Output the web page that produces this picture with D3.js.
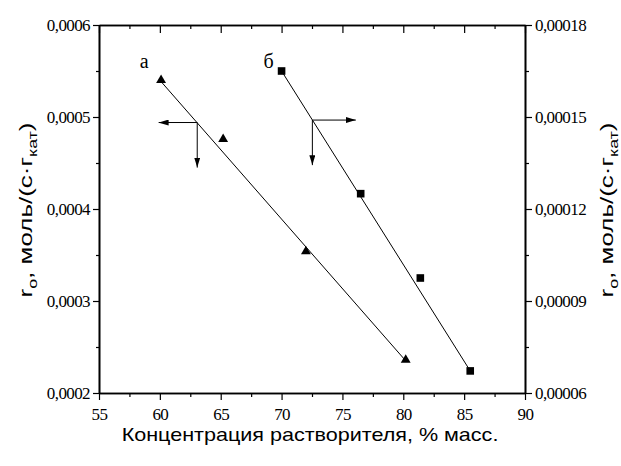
<!DOCTYPE html>
<html>
<head>
<meta charset="utf-8">
<script src="https://cdn.jsdelivr.net/npm/d3@7"></script>
<style>
  body { margin: 0; background: #fff; }
  svg { display: block; }
</style>
</head>
<body>
<div id="chart"></div>
<script>
// Series "а": triangles, left axis
const concA = [60.1, 65.2, 72.0, 80.2];
const rateA = [0.000540, 0.000476, 0.000354, 0.000236];
// Series "б": squares, right axis
const concB = [70.0, 76.5, 81.4, 85.5];
const rateB = [0.000165, 0.000125, 0.0000975, 0.0000672];

// Fitted lines (end points)
const fitAx = [60.0, 80.2];
const fitAy = [0.000540, 0.000235];
const fitBx = [70.0, 85.5];
const fitBy = [0.000165, 0.0000672];

// Axis-indicator arrows: junction on the line, horizontal tip, vertical tip
const arrowA = { x: 63.07, y: 0.000494, toX: 59.9, toY: 0.000445 };
const arrowB = { x: 72.53, y: 0.000149, toX: 76.1, toY: 0.0001343 };

const xTicks = [55, 60, 65, 70, 75, 80, 85, 90];
const xMinor = [57.5, 62.5, 67.5, 72.5, 77.5, 82.5, 87.5];
const yLTicks = [0.0002, 0.0003, 0.0004, 0.0005, 0.0006];
const yLMinor = [0.00025, 0.00035, 0.00045, 0.00055];
const yRTicks = [0.00006, 0.00009, 0.00012, 0.00015, 0.00018];
const yRMinor = [0.000075, 0.000105, 0.000135, 0.000165];

const width = 621, height = 466;
const plotLeft = 99, plotRight = 525, plotTop = 25, plotBottom = 393;
const serif = "'Liberation Serif', 'Times New Roman', serif";
const sans = "'Liberation Sans', Arial, sans-serif";

const svg = d3.select("#chart").append("svg")
    .attr("width", width)
    .attr("height", height);

const x = d3.scaleLinear().domain([55, 90]).range([plotLeft, plotRight]);
const yL = d3.scaleLinear().domain([0.0002, 0.0006]).range([plotBottom, plotTop]);
const yR = d3.scaleLinear().domain([0.00006, 0.00018]).range([plotBottom, plotTop]);

const commaFmt = (f) => (d) => d3.format(f)(d).replace(".", ",");

function styleAxis(g) {
    g.selectAll(".domain").attr("stroke", "#000").attr("stroke-width", 1.6);
    g.selectAll(".tick line").attr("stroke", "#000").attr("stroke-width", 1.2);
    g.selectAll(".tick text")
        .attr("fill", "#000")
        .style("font-family", serif)
        .style("font-size", "17px")
        .style("letter-spacing", "-0.6px");
}

// Minor ticks first, then major axes on top
svg.append("g").attr("transform", `translate(0,${plotBottom})`)
    .call(d3.axisBottom(x).tickValues(xMinor).tickSize(4).tickSizeOuter(0).tickFormat(""))
    .call(styleAxis);
svg.append("g").attr("transform", `translate(0,${plotTop})`)
    .call(d3.axisTop(x).tickValues(xMinor).tickSize(-4).tickSizeOuter(0).tickFormat(""))
    .call(styleAxis);
svg.append("g").attr("transform", `translate(${plotLeft},0)`)
    .call(d3.axisLeft(yL).tickValues(yLMinor).tickSize(3).tickSizeOuter(0).tickFormat(""))
    .call(styleAxis);
svg.append("g").attr("transform", `translate(${plotRight},0)`)
    .call(d3.axisRight(yR).tickValues(yRMinor).tickSize(4).tickSizeOuter(0).tickFormat(""))
    .call(styleAxis);

const xAxis = svg.append("g").attr("transform", `translate(0,${plotBottom})`)
    .call(d3.axisBottom(x).tickValues(xTicks).tickSize(7).tickSizeOuter(0).tickPadding(8).tickFormat(d3.format("d")))
    .call(styleAxis);
xAxis.selectAll(".tick text").attr("dy", "0.71em");

svg.append("g").attr("transform", `translate(0,${plotTop})`)
    .call(d3.axisTop(x).tickValues(xTicks).tickSize(-8).tickSizeOuter(0).tickFormat(""))
    .call(styleAxis);

svg.append("g").attr("transform", `translate(${plotLeft},0)`)
    .call(d3.axisLeft(yL).tickValues(yLTicks).tickSize(6).tickSizeOuter(0).tickPadding(3).tickFormat(commaFmt(".4f")))
    .call(styleAxis);

svg.append("g").attr("transform", `translate(${plotRight},0)`)
    .call(d3.axisRight(yR).tickValues(yRTicks).tickSize(7).tickSizeOuter(0).tickPadding(3).tickFormat(commaFmt(".5f")))
    .call(styleAxis);

// Fit lines
const line = d3.line();
svg.append("path")
    .attr("d", line(fitAx.map((v, i) => [x(v), yL(fitAy[i])])))
    .attr("fill", "none").attr("stroke", "#000").attr("stroke-width", 1);
svg.append("path")
    .attr("d", line(fitBx.map((v, i) => [x(v), yR(fitBy[i])])))
    .attr("fill", "none").attr("stroke", "#000").attr("stroke-width", 1);

// Markers
const tri = d3.symbol().type(d3.symbolTriangle).size(42);
svg.append("g").selectAll("path")
    .data(concA.map((v, i) => [v, rateA[i]]))
    .join("path")
    .attr("d", tri)
    .attr("transform", d => `translate(${x(d[0])},${yL(d[1])})`)
    .attr("fill", "#000");

svg.append("g").selectAll("rect")
    .data(concB.map((v, i) => [v, rateB[i]]))
    .join("rect")
    .attr("x", d => x(d[0]) - 3.8)
    .attr("y", d => yR(d[1]) - 3.8)
    .attr("width", 7.6)
    .attr("height", 7.6)
    .attr("fill", "#000");

// Arrows
const defs = svg.append("defs");
defs.append("marker")
    .attr("id", "head")
    .attr("viewBox", "0 0 10 6")
    .attr("refX", 10).attr("refY", 3)
    .attr("markerWidth", 10).attr("markerHeight", 6)
    .attr("markerUnits", "userSpaceOnUse")
    .attr("orient", "auto")
    .append("path").attr("d", "M0,0L10,3L0,6Z").attr("fill", "#000");

function drawArrows(a, yScale) {
    const jx = x(a.x), jy = yScale(a.y);
    svg.append("line")
        .attr("x1", jx).attr("y1", jy).attr("x2", x(a.toX)).attr("y2", jy)
        .attr("stroke", "#000").attr("stroke-width", 1)
        .attr("marker-end", "url(#head)");
    svg.append("line")
        .attr("x1", jx).attr("y1", jy).attr("x2", jx).attr("y2", yScale(a.toY))
        .attr("stroke", "#000").attr("stroke-width", 1)
        .attr("marker-end", "url(#head)");
}
drawArrows(arrowA, yL);
drawArrows(arrowB, yR);

// Series labels
svg.append("text")
    .attr("x", x(concA[0]) - 17).attr("y", yL(rateA[0]) - 12)
    .attr("text-anchor", "middle")
    .style("font-family", serif).style("font-size", "20px")
    .text("а");
svg.append("text")
    .attr("x", x(concB[0]) - 13).attr("y", yR(rateB[0]) - 3)
    .attr("text-anchor", "middle")
    .style("font-family", serif).style("font-size", "20px")
    .text("б");

// Axis titles: stretched along the baseline to the reference width
function fitWidth(t, target, base) {
    const len = t.node().getComputedTextLength();
    t.attr("transform", `${base} scale(${target / len},1)`);
}

const xTitle = svg.append("text")
    .attr("text-anchor", "middle")
    .style("font-family", sans)
    .style("font-size", "18.5px")
    .attr("fill", "#000")
    .text("Концентрация растворителя, % масс.");
fitWidth(xTitle, 377, "translate(310,441)");

function yTitle(tx) {
    const t = svg.append("text")
        .attr("text-anchor", "middle")
        .style("font-family", sans)
        .style("font-size", "19px")
        .attr("fill", "#000");
    t.append("tspan").text("r");
    t.append("tspan").attr("dy", 5).style("font-size", "13px").text("o");
    t.append("tspan").attr("dy", -5).text(", моль/(с·г");
    t.append("tspan").attr("dy", 5).style("font-size", "13px").text("кат");
    t.append("tspan").attr("dy", -5).text(")");
    fitWidth(t, 175, `translate(${tx},210) rotate(-90)`);
}
yTitle(32);
yTitle(613);
</script>
</body>
</html>
